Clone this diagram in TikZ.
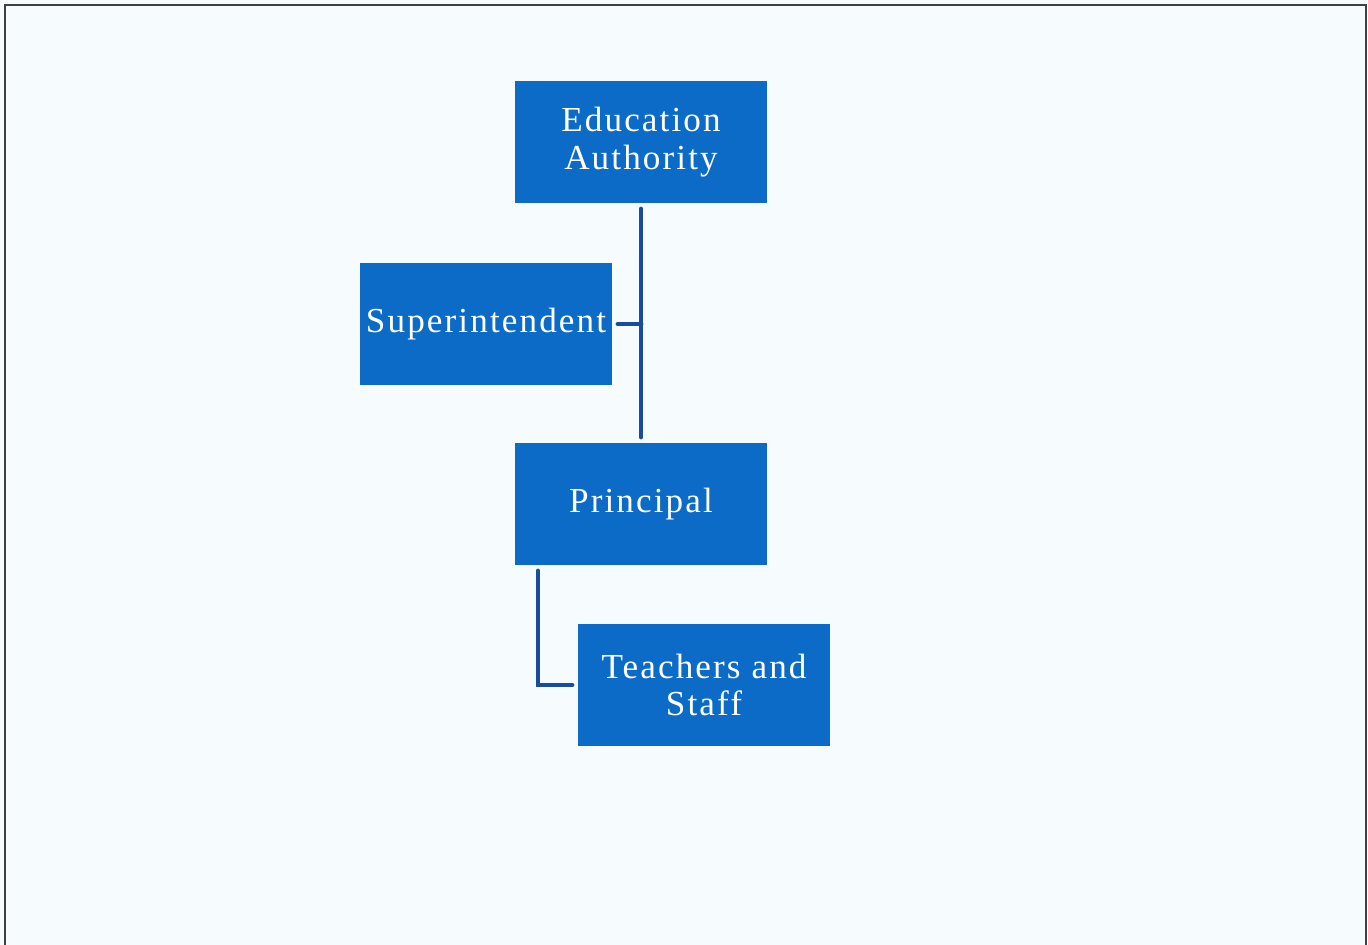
\documentclass[tikz,border=0pt]{standalone}
\usepackage{fontspec}
\setmainfont{Liberation Serif}[LetterSpace=6]
\definecolor{boxblue}{HTML}{0B6BC6}
\definecolor{linkblue}{HTML}{1A4C9C}
\definecolor{paper}{HTML}{F6FBFE}
\tikzset{
  unit/.style={fill=boxblue, text=white, align=center, inner sep=1pt,
    minimum width=143pt, minimum height=69pt,
    font=\fontsize{20}{21.5}\selectfont},
  link/.style={draw=linkblue, line width=2.7pt, line cap=round,
    shorten <=3.4pt, shorten >=3.4pt}
}
\begin{document}
\begin{tikzpicture}[x=0.02cm, y=-0.02cm]
  % Page and frame
  \useasboundingbox (0,0) rectangle (1368,945);
  \fill[paper] (0,0) rectangle (1368,945);
  \draw[black!75, line width=1.2pt] (5,960) -- (5,5) -- (1366,5) -- (1366,960);
  % Boxes
  \node[unit] (ea) at (641,142) {Education\\Authority};
  \node[unit] (su) at (486,324) {Superintendent};
  \node[unit] (pr) at (641,504) {Principal};
  \node[unit] (ts) at (704,685) {Teachers and\\Staff};
  % Lines
  \draw[link] (ea.south) -- (pr.north);
  \draw[link, shorten >=0pt] (su.east) -- (su.east -| ea.south);
  \draw[link] ([xshift=13pt]pr.south west) |- (ts.west);
\end{tikzpicture}
\end{document}
